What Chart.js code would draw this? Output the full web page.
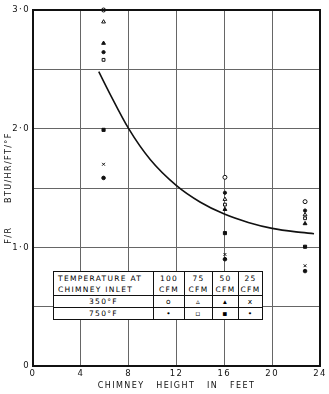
<!DOCTYPE html>
<html>
<head>
<meta charset="utf-8">
<script src="https://cdn.jsdelivr.net/npm/chart.js@4/dist/chart.umd.min.js"></script>
<style>
  body { margin: 0; background: #fff; }
  #wrap { position: relative; width: 329px; height: 394px; }
  #key {
    position: absolute; left: 53px; top: 271px;
    border-collapse: collapse; background: #fff;
    font-family: "DejaVu Sans", sans-serif; font-size: 7.5px; letter-spacing: 1.3px;
    color: #000;
  }
  #key td { border: 1px solid #111; padding: 0; text-align: center; line-height: 11px; }
  #key td.lbl { text-align: left; padding-left: 4px; }
</style>
</head>
<body>
<div id="wrap">
  <canvas id="chart" width="329" height="394"></canvas>
  <table id="key">
    <tr style="height:24px">
      <td class="lbl" style="width:95px">TEMPERATURE AT<br>CHIMNEY INLET</td>
      <td style="width:30px">100<br>CFM</td>
      <td style="width:27px">75<br>CFM</td>
      <td style="width:25px">50<br>CFM</td>
      <td style="width:23px">25<br>CFM</td>
    </tr>
    <tr style="height:12px"><td>350°F</td><td>o</td><td>▵</td><td>▴</td><td>x</td></tr>
    <tr style="height:11px"><td>750°F</td><td>•</td><td>▫</td><td>▪</td><td>•</td></tr>
  </table>
</div>
<script>
// chimney heights (ft) where tests were made
const heights = [5.9, 16.05, 22.75]
// F/R values read per flow rate and inlet temperature
const cfm100_350 = [3.0, 1.59, 1.385]
const cfm100_750 = [2.645, 1.46, 1.31]
const cfm75_350 = [2.90, 1.405, 1.275]
const cfm75_750 = [2.58, 1.36, 1.245]
const cfm50_350 = [2.72, 1.32, 1.20]
const cfm50_750 = [1.99, 1.12, 1.005]
const cfm25_350 = [1.70, 0.94, 0.845]
const cfm25_750 = [1.585, 0.90, 0.80]

// fitted curve
const curveX = [5.5, 6.4, 8, 9.8, 12, 14, 16, 18, 20, 22, 23.5]
const curveY = [2.48, 2.30, 2.00, 1.74, 1.52, 1.38, 1.28, 1.21, 1.16, 1.13, 1.115]

const xTicks = [0, 4, 8, 12, 16, 20, 24]
const yLabels = {0: "0", 1: "1·0", 2: "2·0", 3: "3·0"}

const pts = (ys) => heights.map((x, i) => ({x: x, y: ys[i]}))

function marks(label, ys, style, filled, r) {
    return {
        label: label,
        data: pts(ys),
        pointStyle: style,
        pointRadius: r,
        pointBorderWidth: 1,
        borderColor: "#111",
        backgroundColor: filled ? "#111" : "#fff",
        showLine: false,
        clip: false
    }
}

const frame = {
    id: "frame",
    beforeDraw(chart) {
        chart.ctx.letterSpacing = "1.4px"
    },
    afterDraw(chart) {
        const a = chart.chartArea, ctx = chart.ctx
        ctx.save()
        ctx.strokeStyle = "#111"
        ctx.lineWidth = 2
        ctx.beginPath()
        ctx.moveTo(a.left, a.bottom)
        ctx.lineTo(a.left, a.top)
        ctx.lineTo(a.right, a.top)
        ctx.lineTo(a.right, a.bottom)
        ctx.lineTo(a.left, a.bottom)
        ctx.stroke()
        ctx.restore()
    }
}

new Chart(document.getElementById("chart"), {
    type: "scatter",
    data: {
        datasets: [
            {
                label: "curve",
                data: curveX.map((x, i) => ({x: x, y: curveY[i]})),
                showLine: true,
                pointRadius: 0,
                borderColor: "#111",
                borderWidth: 1.6,
                cubicInterpolationMode: "monotone"
            },
            marks("100 CFM 350°F", cfm100_350, "circle", false, 2),
            marks("100 CFM 750°F", cfm100_750, "circle", true, 1.6),
            marks("75 CFM 350°F", cfm75_350, "triangle", false, 2.2),
            marks("75 CFM 750°F", cfm75_750, "rect", false, 2),
            marks("50 CFM 350°F", cfm50_350, "triangle", true, 2.2),
            marks("50 CFM 750°F", cfm50_750, "rect", true, 2.2),
            marks("25 CFM 350°F", cfm25_350, "crossRot", false, 2),
            marks("25 CFM 750°F", cfm25_750, "circle", true, 1.8)
        ]
    },
    options: {
        responsive: false,
        animation: false,
        layout: {padding: {top: 10, right: 9, left: 0, bottom: 0}},
        plugins: {legend: {display: false}, tooltip: {enabled: false}},
        scales: {
            x: {
                type: "linear", min: 0, max: 24,
                afterFit: s => { s.height = 28 },
                afterBuildTicks: s => { s.ticks = xTicks.map(v => ({value: v})) },
                grid: {color: "#666", lineWidth: 1, drawTicks: false},
                border: {color: "#111", width: 2},
                ticks: {color: "#111", padding: 3, font: {family: "DejaVu Sans", size: 8.5}},
                title: {
                    display: true, text: "CHIMNEY   HEIGHT   IN   FEET", color: "#111",
                    font: {family: "DejaVu Sans", size: 8}, padding: {top: 0, bottom: 3}
                }
            },
            y: {
                min: 0, max: 3,
                afterFit: s => { s.width = 33 },
                grid: {color: "#666", lineWidth: 1, drawTicks: false},
                border: {color: "#111", width: 2},
                ticks: {
                    stepSize: 0.5, color: "#111", padding: 3,
                    font: {family: "DejaVu Sans", size: 8.5},
                    callback: v => (v in yLabels ? yLabels[v] : "")
                },
                title: {
                    display: true, text: "F/R      BTU/HR/FT/°F", color: "#111",
                    font: {family: "DejaVu Sans", size: 8}, padding: {top: 4, bottom: 0}
                }
            }
        }
    },
    plugins: [frame]
})
</script>
</body>
</html>
